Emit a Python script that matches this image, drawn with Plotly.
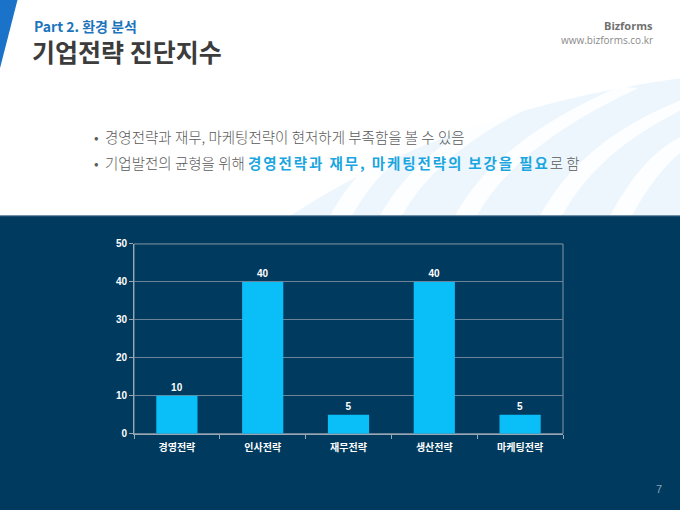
import plotly.graph_objects as go

# chart data
categories = ["경영전략", "인사전략", "재무전략", "생산전략", "마케팅전략"]
values = [10, 40, 5, 40, 5]
y_ticks = [0, 10, 20, 30, 40, 50]

W = 680
TOP, VH = 5, 498   # where the figure lands in the photographed window
DARK = "#003a5e"
BAR = "#0abff8"
KFONT = "Noto Sans CJK KR"
AFONT = "Liberation Sans, Noto Sans CJK KR"


def px(x):
    return x / W


def py(y):
    return 1 - (y - TOP) / VH


fig = go.Figure(go.Bar(
    x=categories,
    y=values,
    width=0.48,
    marker=dict(color=BAR, line=dict(width=0)),
    text=values,
    textposition="outside",
    cliponaxis=False,
    textfont=dict(family=AFONT, size=10, color="white", weight="bold"),
    hoverinfo="skip",
))

shapes = []
# faint swoosh behind bullet text
shapes.append(dict(type="path", xref="paper", yref="paper", layer="below",
                   path="M {} {} Q {} {} {} {} L {} {} Z".format(
                       px(290), py(215), px(450), py(110), px(680), py(78), px(680), py(215)),
                   fillcolor="rgba(214,236,250,0.45)", line=dict(width=0)))
# white stripes across the light band
for sx, ex, ey in [(330, 470, 100), (380, 540, 92), (455, 620, 86), (540, 680, 100), (610, 700, 130)]:
    shapes.append(dict(type="path", xref="paper", yref="paper", layer="below",
                       path="M {} {} Q {} {} {} {} L {} {} Q {} {} {} {} Z".format(
                           px(sx), py(215), px(sx + 40), py(140), px(ex), py(ey),
                           px(ex + 18), py(ey + 2), px(sx + 60), py(145), px(sx + 22), py(215)),
                       fillcolor="rgba(255,255,255,0.85)", line=dict(width=0)))
# dark lower panel
shapes.append(dict(type="rect", xref="paper", yref="paper", layer="below",
                   x0=0, x1=1, y0=-0.1, y1=py(215), fillcolor=DARK, line=dict(width=0)))
shapes.append(dict(type="line", xref="paper", yref="paper", layer="below",
                   x0=0, x1=1, y0=py(215), y1=py(215), line=dict(color="#4d7391", width=1)))
# blue corner triangle
shapes.append(dict(type="path", xref="paper", yref="paper",
                   path="M 0 1.1 L {} 1.1 L 0 {} Z".format(px(29), py(68)),
                   fillcolor="#1a73c9", line=dict(width=0)))
# plot frame right/top
shapes.append(dict(type="rect", xref="paper", yref="paper", layer="below",
                   x0=px(134), x1=px(563), y0=py(432), y1=py(243),
                   line=dict(color="#8596a6", width=1)))

hl = "<b><span style='color:#1ba6df;letter-spacing:1.9px'>경영전략과 재무, 마케팅전략의 보강을 필요</span></b>"
annotations = [
    dict(text="<b>Part 2. 환경 분석</b>", x=px(32), y=py(26), font=dict(family=KFONT, size=14, color="#1c75bc")),
    dict(text="<b>기업전략 진단지수</b>", x=px(30), y=py(51), font=dict(family=KFONT, size=25, color="#3c3c3c")),
    dict(text="<b>Bizforms</b>", x=px(655), y=py(25), xanchor="right", font=dict(family="Open Sans", size=11, color="#707070")),
    dict(text="www.bizforms.co.kr", x=px(655), y=py(40), xanchor="right", font=dict(family="Open Sans", size=10, color="#8a8a8a")),
    dict(text="•  경영전략과 재무, 마케팅전략이 현저하게 부족함을 볼 수 있음", x=px(92), y=py(136),
         font=dict(family=KFONT, size=14.5, color="#595959", weight=300)),
    dict(text="•  기업발전의 균형을 위해 " + hl + "로 함",
         x=px(92), y=py(162), font=dict(family=KFONT, size=14.5, color="#595959", weight=300)),
    dict(text="7", x=px(659), y=py(487), xanchor="center", font=dict(family=AFONT, size=11, color="#8aa2b8")),
]
for a in annotations:
    a.setdefault("xanchor", "left")
    a.update(xref="paper", yref="paper", yanchor="middle", showarrow=False)

axis_font = dict(family=AFONT, size=10, color="white", weight="bold")

fig.update_layout(
    autosize=True,
    margin=dict(l=0, r=0, t=0, b=0),
    paper_bgcolor="white",
    plot_bgcolor=DARK,
    showlegend=False,
    hovermode=False,
    shapes=shapes,
    annotations=annotations,
    xaxis=dict(domain=[px(134), px(563)], showgrid=False,
               showline=True, linecolor="#9aa8b5", linewidth=1,
               ticks="outside", ticklen=4, tickcolor="#9aa8b5",
               tickson="boundaries", tickfont=axis_font, ticklabelstandoff=4,
               fixedrange=True),
    yaxis=dict(domain=[py(432), py(243)], range=[0, 50],
               tickvals=y_ticks, showgrid=True, gridcolor="#6d8397", gridwidth=1,
               zeroline=False, showline=True, linecolor="#9aa8b5", linewidth=1,
               ticks="outside", ticklen=4, tickcolor="#9aa8b5",
               tickfont=axis_font, fixedrange=True),
    font=dict(family=AFONT, size=10, color="white"),
)

page_fix = (
    "var bg='linear-gradient(#ffffff 0%,#ffffff 50%,#003a5e 50%,#003a5e 100%)';"
    "var s=document.documentElement.style;s.margin='0';s.overflow='hidden';s.background=bg;"
    "var b=document.body.style;b.margin='0';b.overflow='hidden';b.background=bg;"
)

fig.write_html("out.html", config={"displayModeBar": False, "staticPlot": True, "responsive": True},
               default_width="100vw", default_height="100vh", post_script=page_fix)
